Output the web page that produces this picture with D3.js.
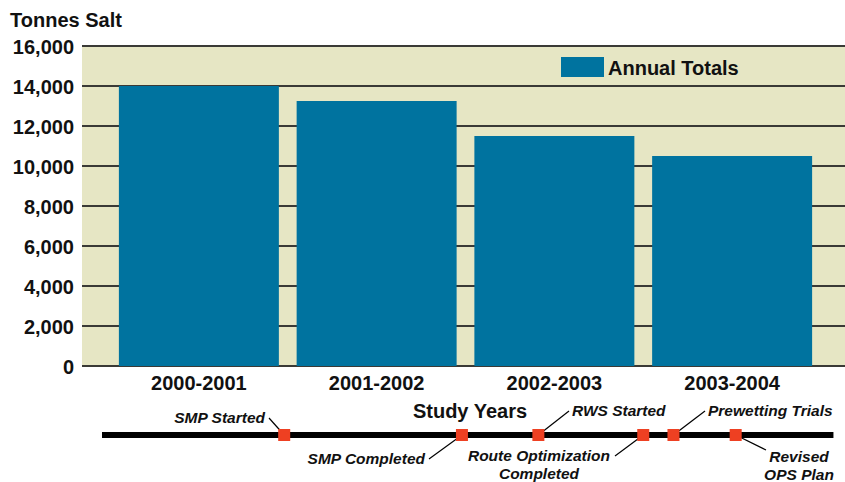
<!DOCTYPE html>
<html>
<head>
<meta charset="utf-8">
<script src="https://cdn.jsdelivr.net/npm/d3@7"></script>
<style>
  body { margin: 0; background: #fff; }
  text { font-family: "Liberation Sans", Arial, sans-serif; font-weight: bold; }
</style>
</head>
<body>
<svg width="845" height="482"></svg>
<script>
var years = ["2000-2001", "2001-2002", "2002-2003", "2003-2004"];
var totals = [14000, 13250, 11500, 10500];
var yTicks = [0, 2000, 4000, 6000, 8000, 10000, 12000, 14000, 16000];

// timeline events, position in study years from start of 2000-2001
var eventNames = ["SMP Started", "SMP Completed", "RWS Started", "Route Optimization|Completed", "Prewetting Trials", "Revised|OPS Plan"];
var eventTimes = [0.98, 1.98, 2.41, 3.0, 3.17, 3.52];

var svg = d3.select("svg"),
    width = +svg.attr("width"),
    height = +svg.attr("height");

var plotLeft = 82, plotRight = 845, plotTop = 46, plotBottom = 366;

var x = d3.scaleBand()
    .domain(years)
    .range([110, 821])
    .paddingInner(0.1)
    .paddingOuter(0.05);

var y = d3.scaleLinear()
    .domain([0, 16000])
    .range([plotBottom, plotTop]);

// plot background
svg.append("rect")
    .attr("x", plotLeft)
    .attr("y", plotTop)
    .attr("width", plotRight - plotLeft)
    .attr("height", plotBottom - plotTop)
    .attr("fill", "#e6e6c4");

// gridlines
svg.append("g")
    .selectAll("line")
    .data(yTicks)
    .join("line")
    .attr("x1", plotLeft)
    .attr("x2", plotRight)
    .attr("y1", d => y(d))
    .attr("y2", d => y(d))
    .attr("stroke", "#3a3a36")
    .attr("stroke-width", 2);

// y axis labels
var yAxis = d3.axisLeft(y)
    .tickValues(yTicks)
    .tickSize(0)
    .tickPadding(8)
    .tickFormat(d3.format(","));

svg.append("g")
    .attr("transform", "translate(" + plotLeft + ",0)")
    .call(yAxis)
    .call(g => g.select(".domain").remove())
    .call(g => g.selectAll("text")
        .attr("font-size", 20)
        .attr("fill", "#111")
        .attr("dy", "0.36em"));

// bars
svg.append("g")
    .selectAll("rect")
    .data(totals)
    .join("rect")
    .attr("x", (d, i) => x(years[i]))
    .attr("width", x.bandwidth())
    .attr("y", d => y(d))
    .attr("height", d => y(0) - y(d))
    .attr("fill", "#00739f");

// category labels
var xAxis = d3.axisBottom(x).tickSize(0).tickPadding(10);
svg.append("g")
    .attr("transform", "translate(0," + plotBottom + ")")
    .call(xAxis)
    .call(g => g.select(".domain").remove())
    .call(g => g.selectAll("text")
        .attr("font-size", 20)
        .attr("fill", "#111"));

// axis titles
svg.append("text")
    .attr("x", 10)
    .attr("y", 27)
    .attr("font-size", 20)
    .attr("fill", "#111")
    .text("Tonnes Salt");

svg.append("text")
    .attr("x", 470)
    .attr("y", 418)
    .attr("text-anchor", "middle")
    .attr("font-size", 20)
    .attr("fill", "#111")
    .text("Study Years");

// legend
svg.append("rect")
    .attr("x", 561)
    .attr("y", 57)
    .attr("width", 43)
    .attr("height", 20)
    .attr("fill", "#00739f");

svg.append("text")
    .attr("x", 608)
    .attr("y", 75)
    .attr("font-size", 20)
    .attr("fill", "#111")
    .text("Annual Totals");

// timeline
var t = d3.scaleLinear()
    .domain([0, 4])
    .range([110, 821]);

var lineY = 435;

svg.append("line")
    .attr("x1", t(-0.045))
    .attr("x2", t(4.07))
    .attr("y1", lineY)
    .attr("y2", lineY)
    .attr("stroke", "#000")
    .attr("stroke-width", 6);

// label placement: anchor, label x, label y, leader end point
var labelSpots = [
    { anchor: "end",    lx: 265, ly: 423, sx: 269, sy: 418 },
    { anchor: "end",    lx: 425, ly: 464, sx: 429, sy: 459 },
    { anchor: "start",  lx: 572, ly: 416, sx: 569, sy: 411 },
    { anchor: "middle", lx: 539, ly: 461, sx: 615, sy: 456 },
    { anchor: "start",  lx: 708, ly: 416, sx: 705, sy: 411 },
    { anchor: "middle", lx: 799, ly: 462, sx: 766, sy: 450 }
];

var ev = svg.append("g")
    .selectAll("g")
    .data(eventNames)
    .join("g");

ev.append("line")
    .attr("x1", (d, i) => t(eventTimes[i]))
    .attr("y1", lineY)
    .attr("x2", (d, i) => labelSpots[i].sx)
    .attr("y2", (d, i) => labelSpots[i].sy)
    .attr("stroke", "#000")
    .attr("stroke-width", 1.2);

ev.append("rect")
    .attr("x", (d, i) => t(eventTimes[i]) - 6)
    .attr("y", lineY - 6)
    .attr("width", 12)
    .attr("height", 12)
    .attr("fill", "#ee4022");

ev.append("text")
    .attr("text-anchor", (d, i) => labelSpots[i].anchor)
    .attr("x", (d, i) => labelSpots[i].lx)
    .attr("y", (d, i) => labelSpots[i].ly)
    .attr("font-size", 15.5)
    .attr("font-style", "italic")
    .attr("fill", "#111")
    .selectAll("tspan")
    .data(d => d.split("|"))
    .join("tspan")
    .attr("x", function() { return d3.select(this.parentNode).attr("x"); })
    .attr("dy", (d, i) => i === 0 ? 0 : 18)
    .text(d => d);
</script>
</body>
</html>
